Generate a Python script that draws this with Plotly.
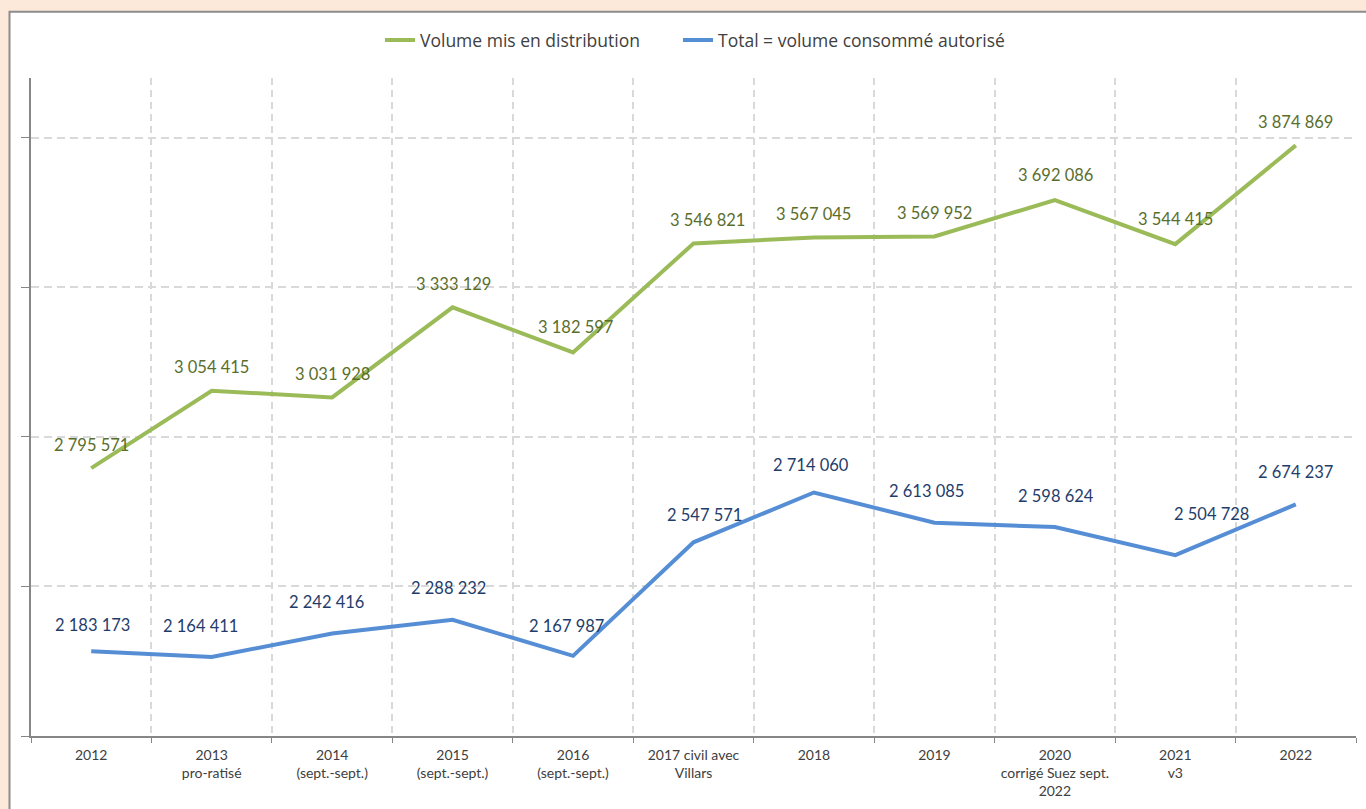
import plotly.graph_objects as go

categories = [
    "2012",
    "2013<br>pro-ratisé",
    "2014<br>(sept.-sept.)",
    "2015<br>(sept.-sept.)",
    "2016<br>(sept.-sept.)",
    "2017 civil avec<br>Villars",
    "2018",
    "2019",
    "2020<br>corrigé Suez sept.<br>2022",
    "2021<br>v3",
    "2022",
]
volume_distribution = [2795571, 3054415, 3031928, 3333129, 3182597, 3546821,
                       3567045, 3569952, 3692086, 3544415, 3874869]
volume_consomme = [2183173, 2164411, 2242416, 2288232, 2167987, 2547571,
                   2714060, 2613085, 2598624, 2504728, 2674237]

# label nudges (px) as placed by hand in the original chart
green_label_shift = [(0, 23), (0, 24), (0, 23), (1, 23), (2, 25), (14, 23),
                     (0, 23), (0, 24), (1, 25), (0, 25), (0, 23)]
blue_label_shift = [(1, 26), (-11, 31), (-6, 32), (-4, 32), (-7, 30), (11, 27),
                    (-3, 28), (-8, 32), (1, 31), (36, 41), (0, 32)]

W, H = 1366, 809
ML, MR, MT, MB = 31, 10, 78, 71
PW, PH = W - ML - MR, H - MT - MB


def fmt(v):
    return f"{v:,}".replace(",", " ")


def px_x(p):
    return (p - ML) / PW


def px_y(p):
    return (H - MB - p) / PH


GREEN = "#9BBB59"
BLUE = "#558ED5"
GREEN_TXT = "#5A6E2C"
BLUE_TXT = "#1F3D6B"
FONT = "Lato"

fig = go.Figure()
fig.add_trace(go.Scatter(
    x=categories, y=volume_distribution, mode="lines",
    name="Volume mis en distribution",
    line=dict(color=GREEN, width=4), legend="legend",
))
fig.add_trace(go.Scatter(
    x=categories, y=volume_consomme, mode="lines",
    name="Total = volume consommé autorisé",
    line=dict(color=BLUE, width=4), legend="legend2",
))

# data labels (x given as category index so "2012" is not read as a number)
for i, v in enumerate(volume_distribution):
    dx, dy = green_label_shift[i]
    fig.add_annotation(x=i, y=v, text=fmt(v), showarrow=False, xshift=dx, yshift=dy,
                       font=dict(family=FONT, size=16.5, color=GREEN_TXT))
for i, v in enumerate(volume_consomme):
    dx, dy = blue_label_shift[i]
    fig.add_annotation(x=i, y=v, text=fmt(v), showarrow=False, xshift=dx, yshift=dy,
                       font=dict(family=FONT, size=16.5, color=BLUE_TXT))

# white chart area with grey frame on the peach background
fig.add_shape(type="rect", xref="paper", yref="paper", layer="below",
              x0=px_x(9.5), x1=px_x(1400), y0=px_y(850), y1=px_y(11.5),
              fillcolor="white", line=dict(color="#8C8C8C", width=2))

legend_style = dict(orientation="h", xanchor="left", y=px_y(40), yanchor="middle",
                    font=dict(family="Open Sans", size=17.5, color="#404040"),
                    bgcolor="rgba(0,0,0,0)", itemwidth=30)

fig.update_layout(
    width=W, height=H,
    margin=dict(l=ML, r=MR, t=MT, b=MB),
    paper_bgcolor="#FCE9DA",
    plot_bgcolor="white",
    font=dict(family=FONT, color="#404040"),
    showlegend=True,
    legend=dict(x=px_x(380), **legend_style),
    legend2=dict(x=px_x(678), **legend_style),
)
fig.update_xaxes(
    type="category", tickson="boundaries", range=[-0.5, 10.5],
    showgrid=True, gridcolor="#D9D9D9", griddash="7px,5px", gridwidth=1.5,
    showline=True, linecolor="#868686", linewidth=1.5,
    ticks="outside", ticklen=5, tickcolor="#868686",
    tickfont=dict(size=14, color="#404040"), ticklabelstandoff=5,
)
fig.update_yaxes(
    range=[1900000, 4100000], tick0=1900000, dtick=500000,
    showticklabels=False, zeroline=False,
    showgrid=True, gridcolor="#D9D9D9", griddash="8px,5px", gridwidth=1.5,
    showline=True, linecolor="#868686", linewidth=1.5,
    ticks="outside", ticklen=8, tickcolor="#868686",
)

fig.write_html(
    "out.html",
    config={"displayModeBar": False},
    post_script="document.body.style.margin='0';document.body.style.background='#FCE9DA';",
)
